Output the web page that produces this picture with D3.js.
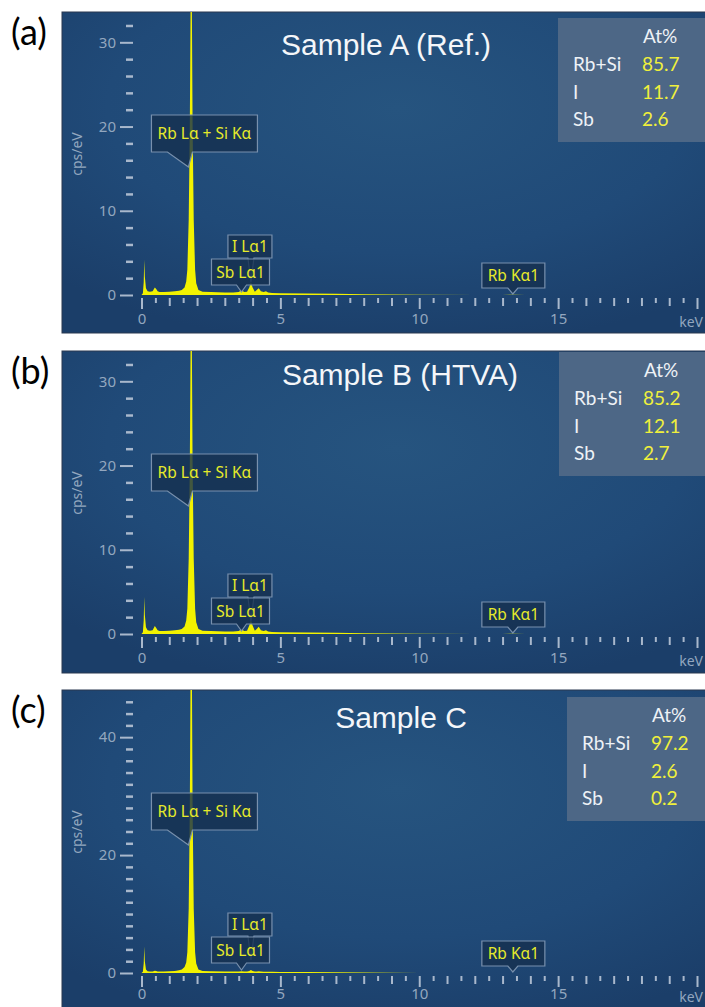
<!DOCTYPE html>
<html>
<head>
<meta charset="utf-8">
<script src="https://cdn.jsdelivr.net/npm/d3@7"></script>
<style>
body { margin: 0; background: #ffffff; }
svg { display: block; }
</style>
</head>
<body>
<div class="edsChartDiv"></div>
<script>
"use strict"

//
/* Data */
//
var energyKeV = [0.00, 0.05, 0.08, 0.10, 0.12, 0.16, 0.22, 0.30, 0.40, 0.48, 0.53, 0.58, 0.65, 0.80, 1.00, 1.20,
                 1.35, 1.45, 1.55, 1.61, 1.65, 1.70, 1.74, 1.77, 1.79, 1.81, 1.84, 1.88, 1.93, 1.97, 2.05, 2.20,
                 2.50, 3.00, 3.30, 3.50, 3.60, 3.70, 3.80, 3.88, 3.94, 4.00, 4.08, 4.15, 4.22, 4.30, 4.40, 4.48,
                 4.56, 4.70, 5.00, 6.00, 7.00, 8.00, 9.00, 10.0, 12.0, 13.0, 13.4, 13.8, 15.0, 17.0, 20.0];

var cpsSampleA = [0, 0.2, 1.5, 4.2, 2.2, 0.8, 0.45, 0.4, 0.45, 0.9, 0.7, 0.45, 0.35, 0.35, 0.4, 0.45,
                  0.5, 0.6, 0.9, 1.6, 3.0, 9, 20, 36, 70, 36, 20, 9, 3.0, 1.4, 0.6, 0.4,
                  0.35, 0.3, 0.3, 0.35, 0.55, 0.35, 0.4, 0.9, 1.5, 0.9, 0.4, 0.6, 0.8, 0.45, 0.35, 0.45,
                  0.3, 0.25, 0.22, 0.18, 0.15, 0.1, 0.05, 0.02, 0.01, 0.01, 0.02, 0.01, 0, 0, 0];

var cpsSampleB = [0, 0.2, 1.6, 4.4, 2.3, 0.8, 0.45, 0.4, 0.45, 0.95, 0.7, 0.45, 0.35, 0.35, 0.4, 0.45,
                  0.5, 0.6, 0.9, 1.6, 3.0, 9, 20, 36, 70, 36, 20, 9, 3.0, 1.4, 0.6, 0.4,
                  0.35, 0.3, 0.3, 0.35, 0.55, 0.35, 0.4, 1.0, 1.6, 1.0, 0.4, 0.6, 0.85, 0.45, 0.35, 0.45,
                  0.3, 0.25, 0.22, 0.18, 0.15, 0.1, 0.05, 0.02, 0.01, 0.01, 0.02, 0.01, 0, 0, 0];

var cpsSampleC = [0, 0.2, 1.6, 4.5, 2.0, 0.6, 0.3, 0.25, 0.25, 0.4, 0.35, 0.25, 0.25, 0.25, 0.3, 0.35,
                  0.45, 0.6, 1.0, 1.8, 3.5, 11, 28, 55, 95, 55, 28, 11, 3.5, 1.6, 0.6, 0.35,
                  0.3, 0.25, 0.25, 0.25, 0.3, 0.25, 0.25, 0.35, 0.5, 0.35, 0.25, 0.25, 0.3, 0.25, 0.2, 0.22,
                  0.2, 0.2, 0.18, 0.15, 0.12, 0.08, 0.04, 0.02, 0.01, 0.01, 0.02, 0.01, 0, 0, 0];

var panelLetters = ["(a)", "(b)", "(c)"];
var sampleTitles = ["Sample A (Ref.)", "Sample B (HTVA)", "Sample C"];

var elementNames = ["Rb+Si", "I", "Sb"];
var atPercentA = ["85.7", "11.7", "2.6"];
var atPercentB = ["85.2", "12.1", "2.7"];
var atPercentC = ["97.2", "2.6", "0.2"];

var xTickLabels = [0, 5, 10, 15];
var yTickLabelsAB = [0, 10, 20, 30];
var yTickLabelsC = [0, 20, 40];
var yMaxAB = 33.6;
var yMaxC = 48;

var peakLabels = ["Rb Lα + Si Kα", "I Lα1", "Sb Lα1", "Rb Kα1"];
var peakEnergies = [1.69, 3.94, 3.60, 13.37];

//
/* Layout */
//
const width = 705;
const height = 1007;
const panelLeft = 62;
const plotDepth = 283;             // px between panel top and the zero line
const xLeft = 141.5, xRight = 697; // 0 keV and 20 keV

var panelTops = [12, 351, 690];
var panelHeights = [321, 322, 330];
var titleCenters = [386, 400, 401];
var titleDrops = [43, 34, 38];
var labelDrops = [32, 32, 29];
var compBoxLefts = [558, 559, 567];
var compBoxDrops = [6, 1, 7];

// callout shapes, in px relative to the tip / zero line
var calloutShapes = [
    {dx: -37, w: 106, top: 180, h: 37, tip: 128, bl: -21, br: 4},
    {dx: -23, w: 44,  top: 60,  h: 23, tip: 13,  bl: -3,  br: 3},
    {dx: -30, w: 58,  top: 36,  h: 26, tip: 3,   bl: -5,  br: 5},
    {dx: -31, w: 63,  top: 32,  h: 25, tip: 1,   bl: -5,  br: 5}
];

var axisColor = "#a9b8cc";
var labelColor = "#93a7bf";
var uiFont = "'Noto Sans', 'Open Sans', sans-serif";
var noteFont = "Lato, 'Open Sans', sans-serif";

var svg = d3.select(".edsChartDiv").append("svg")
            .attr("width", width)
            .attr("height", height)
            .attr("viewBox", "0 0 " + width + " " + height);

var defs = svg.append("defs");

var bgGradient = defs.append("radialGradient")
        .attr("id", "panel-bg")
        .attr("cx", "0.52").attr("cy", "0.3").attr("r", "0.75");
bgGradient.append("stop").attr("offset", 0).attr("stop-color", "#26547f");
bgGradient.append("stop").attr("offset", 0.6).attr("stop-color", "#204a78");
bgGradient.append("stop").attr("offset", 1).attr("stop-color", "#1b3e69");

var x = d3.scaleLinear().domain([0, 20]).range([xLeft, xRight]);

var spectra = [cpsSampleA, cpsSampleB, cpsSampleC];
var compositions = [atPercentA, atPercentB, atPercentC];

function drawPanel(i)
{
    var top = panelTops[i];
    var y0 = top + plotDepth;
    var isC = (i == 2);
    var yMax = isC ? yMaxC : yMaxAB;
    var majors = isC ? yTickLabelsC : yTickLabelsAB;

    var y = d3.scaleLinear().domain([0, yMax]).range([y0, top]);

    var g = svg.append("g").attr("class", "panel panel" + i);

    g.append("rect")
        .attr("x", panelLeft)
        .attr("y", top)
        .attr("width", width - panelLeft + 2)
        .attr("height", panelHeights[i])
        .attr("fill", "url(#panel-bg)")
        .attr("stroke", "#2b3950")
        .attr("stroke-width", 1);

    defs.append("clipPath")
        .attr("id", "clip" + i)
        .append("rect")
        .attr("x", panelLeft).attr("y", top)
        .attr("width", width - panelLeft).attr("height", panelHeights[i]);

    // panel letter outside the frame
    svg.append("text")
        .text(panelLetters[i])
        .attr("x", 11)
        .attr("y", top + 33)
        .attr("font-family", noteFont)
        .attr("font-size", 36)
        .attr("fill", "#000");

    // x axis: half, integer and major ticks
    var halfTicks = d3.range(0.5, 20, 1);
    var intTicks = d3.range(1, 20).filter(function(d) { return d % 5 != 0 });
    var majorTicks = [0, 5, 10, 15, 20];

    [[halfTicks, 5], [intTicks, 8], [majorTicks, 11]].forEach(function(set)
    {
        var axis = d3.axisBottom(x).tickValues(set[0]).tickSize(set[1]).tickFormat("");
        var ag = g.append("g").attr("transform", "translate(0," + (y0 + 3) + ")").call(axis);
        ag.select(".domain").remove();
        ag.selectAll(".tick line").attr("stroke", axisColor).attr("stroke-width", 2);
    });

    var xLab = g.append("g")
        .attr("transform", "translate(0," + (y0 + labelDrops[i] - 29) + ")")
        .call(d3.axisBottom(x).tickValues(xTickLabels).tickSize(0).tickPadding(15));
    xLab.select(".domain").remove();
    xLab.selectAll("text").attr("fill", labelColor).attr("font-size", 15).attr("font-family", uiFont);

    g.append("text")
        .text("keV")
        .attr("x", x(20) + 6)
        .attr("y", y0 + labelDrops[i])
        .attr("text-anchor", "end")
        .attr("fill", labelColor)
        .attr("font-size", 14)
        .attr("font-family", uiFont);

    // y axis: minor dashes every 2 and labelled majors
    var minors = d3.range(2, yMax, 2).filter(function(d) { return majors.indexOf(d) < 0 });
    var yMinor = g.append("g").attr("transform", "translate(133,0)")
        .call(d3.axisLeft(y).tickValues(minors).tickSize(7).tickFormat(""));
    yMinor.select(".domain").remove();
    yMinor.selectAll(".tick line").attr("stroke", axisColor).attr("stroke-width", 2.5);

    var yMajor = g.append("g").attr("transform", "translate(133,0)")
        .call(d3.axisLeft(y).tickValues(majors).tickSize(13).tickPadding(4));
    yMajor.select(".domain").remove();
    yMajor.selectAll(".tick line").attr("stroke", axisColor).attr("stroke-width", 2);
    yMajor.selectAll("text").attr("fill", labelColor).attr("font-size", 15).attr("font-family", uiFont);

    g.append("text")
        .text("cps/eV")
        .attr("transform", "translate(82," + (y0 - 141) + ") rotate(-90)")
        .attr("text-anchor", "middle")
        .attr("fill", labelColor)
        .attr("font-size", 14)
        .attr("font-family", uiFont);

    // spectrum
    var area = d3.area()
        .x(function(d) { return x(d[0]) })
        .y0(y0)
        .y1(function(d) { return y(d[1]) });

    g.append("path")
        .datum(d3.zip(energyKeV, spectra[i]))
        .attr("clip-path", "url(#clip" + i + ")")
        .attr("d", area)
        .attr("fill", "#f2f200");

    // title
    g.append("text")
        .text(sampleTitles[i])
        .attr("x", titleCenters[i])
        .attr("y", top + titleDrops[i])
        .attr("text-anchor", "middle")
        .attr("fill", "#f4f6f9")
        .attr("font-size", 30)
        .attr("font-family", "'Liberation Sans', Arial, sans-serif");

    // peak callouts
    peakLabels.forEach(function(label, k)
    {
        var c = calloutShapes[k];
        var tipX = x(peakEnergies[k]);
        var tipY = y0 - c.tip;
        var left = tipX + c.dx, right = left + c.w;
        var bTop = y0 - c.top, bBot = bTop + c.h;

        g.append("path")
            .attr("d", "M" + left + "," + bTop + "H" + right + "V" + bBot +
                       "H" + (tipX + c.br) + "L" + tipX + "," + tipY +
                       "L" + (tipX + c.bl) + "," + bBot + "H" + left + "Z")
            .attr("fill", "#15304f")
            .attr("fill-opacity", 0.8)
            .attr("stroke", "#7890ad")
            .attr("stroke-width", 1.2);

        g.append("text")
            .text(label)
            .attr("x", left + c.w / 2)
            .attr("y", bTop + c.h / 2 + 5.5)
            .attr("text-anchor", "middle")
            .attr("fill", "#e6ea2a")
            .attr("font-size", 15.5)
            .attr("font-family", uiFont);
    });

    // composition box
    var bx = compBoxLefts[i];
    var by = top + compBoxDrops[i];
    g.append("rect")
        .attr("x", bx).attr("y", by)
        .attr("width", width - bx).attr("height", 124)
        .attr("fill", "#4d6786");

    g.append("text")
        .text("At%")
        .attr("x", bx + 85).attr("y", by + 25)
        .attr("fill", "#eef2f6")
        .attr("font-size", 19)
        .attr("font-family", noteFont);

    var rows = g.selectAll(".compRow")
        .data(elementNames)
        .enter()
        .append("g")
        .attr("class", "compRow")
        .attr("transform", function(d, r) { return "translate(" + bx + "," + (by + 53 + r * 27.5) + ")" });

    rows.append("text")
        .text(function(d) { return d })
        .attr("x", 15)
        .attr("fill", "#eef2f6")
        .attr("font-size", 19)
        .attr("font-family", noteFont);

    rows.append("text")
        .text(function(d, r) { return compositions[i][r] })
        .attr("x", 84)
        .attr("fill", "#f0f03c")
        .attr("font-size", 19)
        .attr("font-family", noteFont);
}

for (var p = 0; p < 3; p++)
    drawPanel(p);
</script>
</body>
</html>
